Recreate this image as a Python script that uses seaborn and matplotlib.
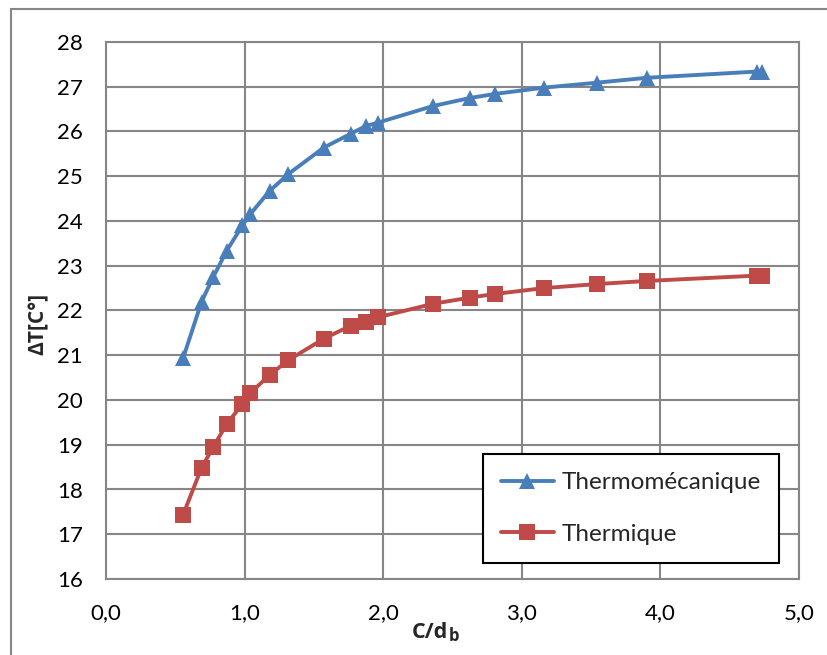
import matplotlib
matplotlib.use("Agg")
import matplotlib.pyplot as plt
from matplotlib.patches import Rectangle
import seaborn as sns
import pandas as pd

# ---- data ----
x_values = [0.557, 0.69, 0.774, 0.87, 0.984, 1.04, 1.18, 1.316, 1.571, 1.766,
            1.873, 1.964, 2.36, 2.628, 2.807, 3.158, 3.539, 3.90, 4.70, 4.733]
thermomecanique = [20.94, 22.2, 22.75, 23.33, 23.9, 24.15, 24.67, 25.05, 25.64, 25.95,
                   26.12, 26.2, 26.57, 26.75, 26.84, 26.98, 27.09, 27.2, 27.34, 27.34]
thermique = [17.44, 18.49, 18.95, 19.46, 19.91, 20.15, 20.56, 20.89, 21.37, 21.66,
             21.75, 21.85, 22.15, 22.29, 22.37, 22.5, 22.59, 22.66, 22.78, 22.78]
series_names = ["Thermomécanique", "Thermique"]
x_ticks = [0.0, 1.0, 2.0, 3.0, 4.0, 5.0]
x_tick_labels = ["0,0", "1,0", "2,0", "3,0", "4,0", "5,0"]
y_ticks = list(range(16, 29))
y_tick_labels = [str(v) for v in y_ticks]
x_label_main = "C/d"
x_label_sub = "b"
y_label = "ΔT[C°]"

df = pd.DataFrame({
    "x": x_values * 2,
    "y": thermomecanique + thermique,
    "serie": [series_names[0]] * len(x_values) + [series_names[1]] * len(x_values),
})

sns.set_theme(style="white")
plt.rcParams["font.family"] = ["Lato", "DejaVu Sans"]
bold_family = ["Open Sans", "DejaVu Sans"]

fig = plt.figure(figsize=(8.28, 6.55), dpi=100)
ax = fig.add_axes([106 / 828, 1 - 579 / 655, (799 - 106) / 828, (579 - 42) / 655])

palette = {series_names[0]: "#4A7EBB", series_names[1]: "#BE4B48"}
markers = {series_names[0]: "^", series_names[1]: "s"}
sns.lineplot(data=df, x="x", y="y", hue="serie", style="serie",
             palette=palette, markers=markers, dashes=False,
             linewidth=2.8, markersize=11, markeredgewidth=0,
             sort=False, ax=ax, legend=True)

ax.set_xlim(0, 5)
ax.set_ylim(16, 28)
ax.set_xticks(x_ticks)
ax.set_xticklabels(x_tick_labels)
ax.set_yticks(y_ticks)
ax.set_yticklabels(y_tick_labels)
ax.grid(True, color="#868686", linewidth=1.5)
ax.set_axisbelow(True)
for side, sp in ax.spines.items():
    sp.set_color("#868686")
    sp.set_linewidth(1.5)
ax.tick_params(axis="both", which="major", direction="out", length=6.5, width=1.5,
               color="#868686", labelsize=16, labelcolor="black")
ax.tick_params(axis="y", pad=10)
ax.tick_params(axis="x", pad=11)

# axis labels
ax.set_xlabel("")
ax.set_ylabel(y_label, fontsize=15, fontweight="bold", family=bold_family)
ax.yaxis.set_label_coords(-0.083, 0.475)
ax.text(0.494, -0.081, x_label_main, transform=ax.transAxes, ha="right", va="top",
        fontsize=15.5, fontweight="bold", family=bold_family)
ax.text(0.494, -0.089, x_label_sub, transform=ax.transAxes, ha="left", va="top",
        fontsize=12, fontweight="bold", family=bold_family)

# legend
handles, labels = ax.get_legend_handles_labels()
leg = ax.legend(handles, labels, loc="lower right", bbox_to_anchor=(779 / 828, 1 - 563 / 655),
                bbox_transform=fig.transFigure, fontsize=17.5, frameon=True, fancybox=False,
                framealpha=1, edgecolor="black", handlelength=2.2, handletextpad=0.3,
                labelspacing=1.25, borderpad=0.75, borderaxespad=0)
leg.get_frame().set_linewidth(1.5)

# outer chart border
fig.patches.append(Rectangle((11 / 828, -0.1), 1.1, 1.1 - 9 / 655, transform=fig.transFigure,
                             fill=False, edgecolor="#868686", linewidth=1.5))

fig.savefig("out.png", dpi=100)
